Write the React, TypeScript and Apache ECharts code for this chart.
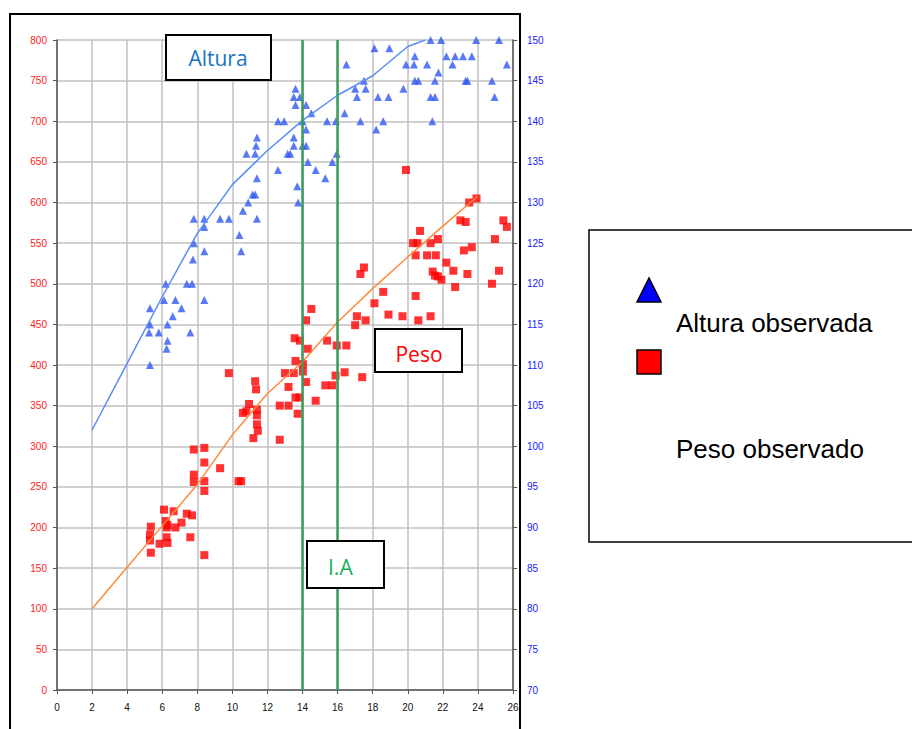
import React, { useEffect, useRef } from "react";
import * as echarts from "echarts";

// Ages (years) for the fitted curves
const lineAges = [2, 4, 6, 8, 10, 12, 14, 16, 18, 20, 21];
const alturaCurve = [102, 110.2, 118.4, 126.2, 132.2, 136.4, 140.1, 143.2, 145.6, 149.2, 150];
const pesoAges = [2, 4, 6, 8, 10, 12, 14, 16, 18, 20, 22, 24];
const pesoCurve = [100, 151, 202, 253, 314, 365, 404, 453, 494, 533, 571, 608];

// Observed heights [age, cm] (right axis)
const alturaObs: number[][] = [
  [5.3, 110], [5.3, 115], [5.3, 117], [5.25, 114], [5.8, 114], [6.1, 118], [6.2, 120], [6.3, 115],
  [6.3, 113], [6.25, 112], [6.6, 116], [6.75, 118], [7.1, 117], [7.4, 120], [7.6, 114], [7.7, 120],
  [7.75, 123], [7.8, 125], [7.8, 128], [8.4, 118], [8.4, 124], [8.4, 127], [8.4, 128], [9.3, 128],
  [9.8, 128], [10.4, 126], [10.5, 124], [10.6, 129], [10.8, 136], [10.9, 130], [11.15, 131], [11.3, 131],
  [11.3, 136], [11.35, 137], [11.4, 133], [11.4, 128], [11.4, 138], [12.6, 140], [12.6, 134], [12.95, 140],
  [13.15, 136], [13.3, 136], [13.5, 138], [13.5, 137], [13.5, 143], [13.6, 144], [13.6, 142], [13.7, 132],
  [13.75, 130], [13.85, 143], [14.0, 140], [14.0, 137], [14.2, 142], [14.2, 139], [14.2, 137], [14.3, 135],
  [14.5, 141], [14.75, 134], [15.3, 133], [15.4, 140], [15.7, 135], [15.9, 140], [15.95, 136], [16.4, 141],
  [16.5, 147], [17.0, 144], [17.1, 143], [17.3, 140], [17.5, 145], [17.6, 144], [18.1, 149], [18.2, 139],
  [18.3, 143], [18.6, 140], [18.9, 143], [18.95, 149], [19.75, 144], [19.9, 147], [20.35, 147], [20.4, 148],
  [20.4, 145], [20.6, 145], [21.1, 147], [21.3, 150], [21.3, 143], [21.4, 140], [21.55, 143], [21.55, 145],
  [21.75, 146], [21.9, 150], [22.2, 148], [22.55, 147], [22.7, 148], [23.15, 148], [23.3, 145], [23.4, 145],
  [23.65, 148], [23.9, 150], [24.8, 145], [24.95, 143], [25.2, 150], [25.65, 147],
];

// Observed weights [age, value] (left axis)
const pesoObs: number[][] = [
  [5.35, 169], [5.3, 184], [5.3, 191], [5.35, 201], [5.85, 180], [6.1, 222], [6.2, 208], [6.25, 188],
  [6.25, 200], [6.3, 181], [6.3, 203], [6.65, 220], [6.75, 200], [7.1, 206], [7.4, 217], [7.6, 188],
  [7.7, 215], [7.8, 256], [7.8, 265], [7.8, 296], [8.4, 166], [8.4, 245], [8.4, 257], [8.4, 280],
  [8.4, 298], [9.3, 273], [9.8, 390], [10.35, 257], [10.5, 257], [10.6, 341], [10.8, 343], [10.95, 352],
  [11.2, 310], [11.3, 380], [11.35, 370], [11.4, 345], [11.4, 338], [11.4, 327], [11.45, 319], [12.7, 308],
  [12.7, 350], [13.0, 390], [13.2, 350], [13.2, 373], [13.5, 390], [13.55, 433], [13.6, 405], [13.6, 360],
  [13.72, 340], [13.82, 360], [13.85, 430], [14.02, 401], [14.02, 392], [14.2, 379], [14.2, 455], [14.3, 420],
  [14.5, 469], [14.75, 356], [15.3, 375], [15.4, 430], [15.7, 375], [15.88, 387], [15.95, 424], [16.4, 391],
  [16.5, 424], [17.0, 449], [17.1, 460], [17.3, 512], [17.4, 385], [17.5, 520], [17.6, 455], [18.1, 476],
  [18.6, 490], [18.9, 462], [19.7, 460], [19.9, 640], [20.3, 550], [20.45, 485], [20.45, 535], [20.55, 550],
  [20.6, 455], [20.7, 565], [21.1, 535], [21.3, 550], [21.3, 460], [21.42, 515], [21.55, 510], [21.6, 535],
  [21.72, 555], [21.72, 509], [21.92, 505], [22.2, 526], [22.6, 516], [22.7, 496], [23.0, 578], [23.2, 541],
  [23.3, 576], [23.4, 512], [23.5, 600], [23.65, 545], [23.92, 605], [24.8, 500], [24.97, 555], [25.2, 516],
  [25.45, 578], [25.65, 570],
];

const xMin = 0, xMax = 26, xStep = 2;
const leftMin = 0, leftMax = 800, leftStep = 50;
const rightMin = 70, rightMax = 150, rightStep = 5;
const iaLines = [14, 16];

const labelText = {
  altura: "Altura",
  peso: "Peso",
  ia: "I.A",
  legAltura: "Altura observada",
  legPeso: "Peso observado",
};

export default function App() {
  const ref = useRef<HTMLDivElement>(null);
  useEffect(() => {
    if (!ref.current) return;
    const chart = echarts.init(ref.current, undefined, { renderer: "svg" });
    const axisFont = "Liberation Sans, Arial, sans-serif";
    const boxFont = "Open Sans, Noto Sans, sans-serif";
    const Z = 100;
    chart.setOption({
      animation: false,
      backgroundColor: "#ffffff",
      grid: { left: 57, right: 399, top: 40, bottom: 39, containLabel: false },
      xAxis: {
        type: "value",
        min: xMin,
        max: xMax,
        interval: xStep,
        axisLine: { show: true, onZero: false, lineStyle: { color: "#555555", width: 1.5 } },
        axisTick: { show: true, length: 4, lineStyle: { color: "#555555" } },
        axisLabel: { color: "#111111", fontSize: 10, fontFamily: axisFont, margin: 12 },
        splitLine: { show: true, lineStyle: { color: "#c0c0c0", width: 1.5 } },
      },
      yAxis: [
        {
          type: "value",
          position: "left",
          min: leftMin,
          max: leftMax,
          interval: leftStep,
          axisLine: { show: true, onZero: false, lineStyle: { color: "#555555", width: 1.5 } },
          axisTick: { show: true, length: 4, lineStyle: { color: "#555555" } },
          axisLabel: { color: "#ff2020", fontSize: 10, fontFamily: axisFont, margin: 10 },
          splitLine: { show: true, lineStyle: { color: "#c0c0c0", width: 1.5 } },
        },
        {
          type: "value",
          position: "right",
          min: rightMin,
          max: rightMax,
          interval: rightStep,
          axisLine: { show: true, onZero: false, lineStyle: { color: "#555555", width: 1.5 } },
          axisTick: { show: true, length: 4, lineStyle: { color: "#555555" } },
          axisLabel: { color: "#2020ff", fontSize: 10, fontFamily: axisFont, margin: 14 },
          splitLine: { show: false },
        },
      ],
      series: [
        {
          name: "Altura observada",
          type: "scatter",
          yAxisIndex: 1,
          symbol: "triangle",
          symbolSize: 8,
          itemStyle: { color: "#3158f2" },
          data: alturaObs,
          z: 3,
        },
        {
          name: "Peso observado",
          type: "scatter",
          yAxisIndex: 0,
          symbol: "rect",
          symbolSize: 8,
          itemStyle: { color: "#ff0000" },
          data: pesoObs,
          z: 3,
        },
        {
          name: "Altura",
          type: "line",
          yAxisIndex: 1,
          showSymbol: false,
          lineStyle: { color: "#5a8cf5", width: 1.5 },
          data: lineAges.map((a, i) => [a, alturaCurve[i]]),
          z: 4,
        },
        {
          name: "Peso",
          type: "line",
          yAxisIndex: 0,
          showSymbol: false,
          lineStyle: { color: "#ff8a3a", width: 1.5 },
          data: pesoAges.map((a, i) => [a, pesoCurve[i]]),
          z: 4,
          markLine: {
            silent: true,
            symbol: "none",
            label: { show: false },
            lineStyle: { color: "#3a9d5d", width: 2.5, type: "solid" },
            data: iaLines.map((v) => ({ xAxis: v })),
          },
        },
      ],
      graphic: [
        {
          type: "rect",
          z: Z,
          shape: { x: 10, y: 14, width: 510, height: 740 },
          style: { fill: "none", stroke: "#000000", lineWidth: 2 },
        },
        { type: "rect", z: Z, shape: { x: 166, y: 35, width: 105, height: 45 }, style: { fill: "#ffffff", stroke: "#000000", lineWidth: 2 } },
        { type: "text", z: Z + 1, x: 218, y: 58, style: { text: labelText.altura, fill: "#1a73c2", font: `21px ${boxFont}`, textAlign: "center", textVerticalAlign: "middle" } },
        { type: "rect", z: Z, shape: { x: 375, y: 329, width: 87, height: 43 }, style: { fill: "#ffffff", stroke: "#000000", lineWidth: 2 } },
        { type: "text", z: Z + 1, x: 419, y: 354, style: { text: labelText.peso, fill: "#ff0000", font: `21px ${boxFont}`, textAlign: "center", textVerticalAlign: "middle" } },
        { type: "rect", z: Z, shape: { x: 307, y: 541, width: 77, height: 47 }, style: { fill: "#ffffff", stroke: "#000000", lineWidth: 2 } },
        { type: "text", z: Z + 1, x: 328, y: 567, style: { text: labelText.ia, fill: "#1fae5a", font: `21px ${boxFont}`, textAlign: "left", textVerticalAlign: "middle" } },
        { type: "rect", z: Z, shape: { x: 589, y: 230, width: 340, height: 312 }, style: { fill: "#ffffff", stroke: "#000000", lineWidth: 1.5 } },
        { type: "polygon", z: Z + 1, shape: { points: [[649, 278], [637, 302], [661, 302]] }, style: { fill: "#0000ff", stroke: "#000000", lineWidth: 1.5 } },
        { type: "rect", z: Z + 1, shape: { x: 637, y: 350, width: 24, height: 24 }, style: { fill: "#ff0000", stroke: "#000000", lineWidth: 1.5 } },
        { type: "text", z: Z + 1, x: 676, y: 323, style: { text: labelText.legAltura, fill: "#000000", font: `26px ${axisFont}`, textAlign: "left", textVerticalAlign: "middle" } },
        { type: "text", z: Z + 1, x: 676, y: 449, style: { text: labelText.legPeso, fill: "#000000", font: `26px ${axisFont}`, textAlign: "left", textVerticalAlign: "middle" } },
      ],
    });
    return () => chart.dispose();
  }, []);
  return (
    <div
      ref={ref}
      style={{ position: "fixed", left: 0, top: 0, width: 912, height: 729, background: "#ffffff" }}
    />
  );
}
